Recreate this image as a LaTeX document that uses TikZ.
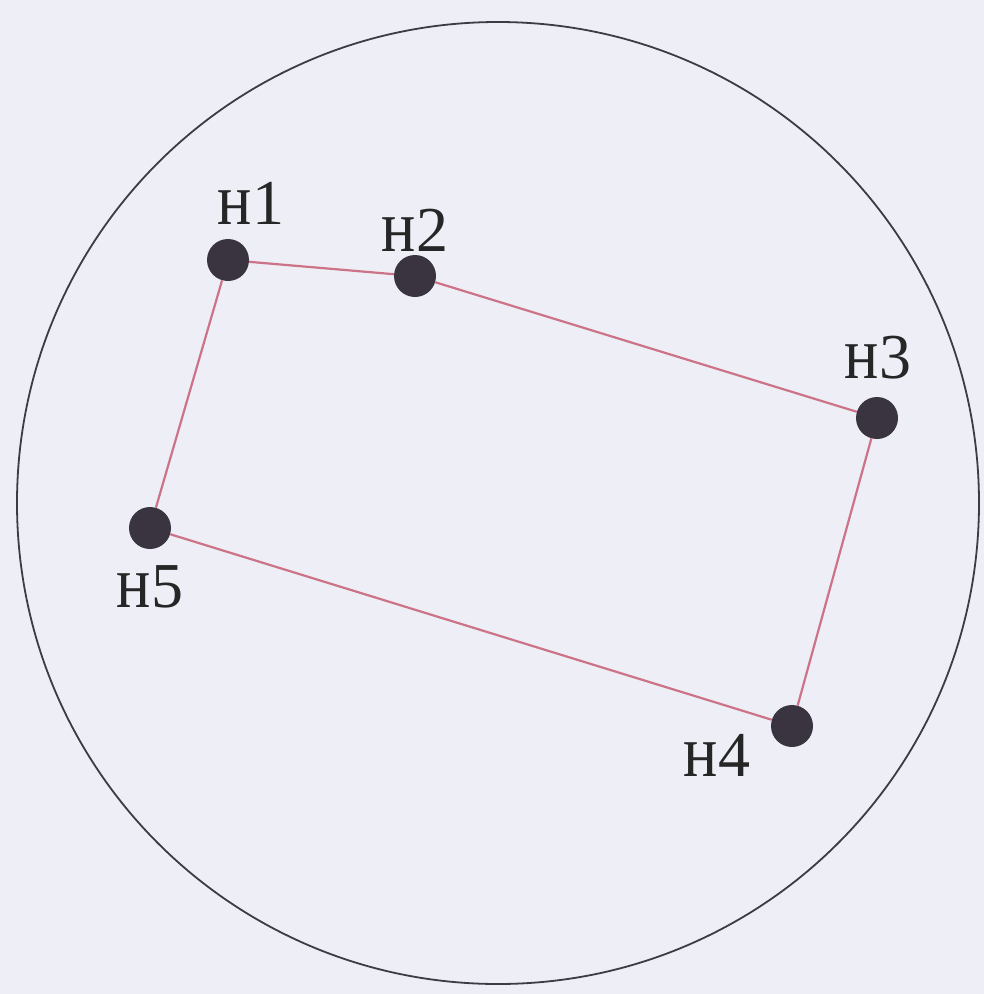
\documentclass[tikz,border=0pt]{standalone}
\usepackage{fontspec}
\setmainfont{Liberation Serif}
\definecolor{bg}{RGB}{237,238,246}
\definecolor{edgec}{RGB}{205,115,135}
\definecolor{dotc}{RGB}{58,52,64}
\definecolor{rimc}{RGB}{60,60,66}
\begin{document}
\begin{tikzpicture}[x=1pt,y=-1pt,
  dot/.style={circle,fill=dotc,inner sep=0pt,minimum size=42pt},
  lbl/.style={inner sep=0pt,anchor=center,text=black!85,font=\fontsize{64}{64}\selectfont},
  edge/.style={draw=edgec,line width=2.2pt}]
\fill[bg] (0,0) rectangle (984,994);
\useasboundingbox (0,0) rectangle (984,994);
\node[draw=rimc,line width=1.8pt,circle,minimum size=962pt,inner sep=0pt] (rim) at (498,503) {};
\node[dot] (n1) at (228,260) {};
\node[dot] (n2) at (415,276) {};
\node[dot] (n3) at (877,418) {};
\node[dot] (n4) at (792,726) {};
\node[dot] (n5) at (150,528) {};
\draw[edge] (n1) -- (n2);
\draw[edge] (n2) -- (n3);
\draw[edge] (n3) -- (n4);
\draw[edge] (n4) -- (n5);
\draw[edge] (n5) -- (n1);
\node[lbl] (l1) at (251,203) {\scalebox{1}[1.15]{н}1};
\node[lbl] (l2) at (415,230) {\scalebox{1}[1.15]{н}2};
\node[lbl] (l3) at (878,358) {\scalebox{1}[1.15]{н}3};
\node[lbl] (l4) at (717,755) {\scalebox{1}[1.15]{н}4};
\node[lbl] (l5) at (150,587) {\scalebox{1}[1.15]{н}5};
\end{tikzpicture}
\end{document}
